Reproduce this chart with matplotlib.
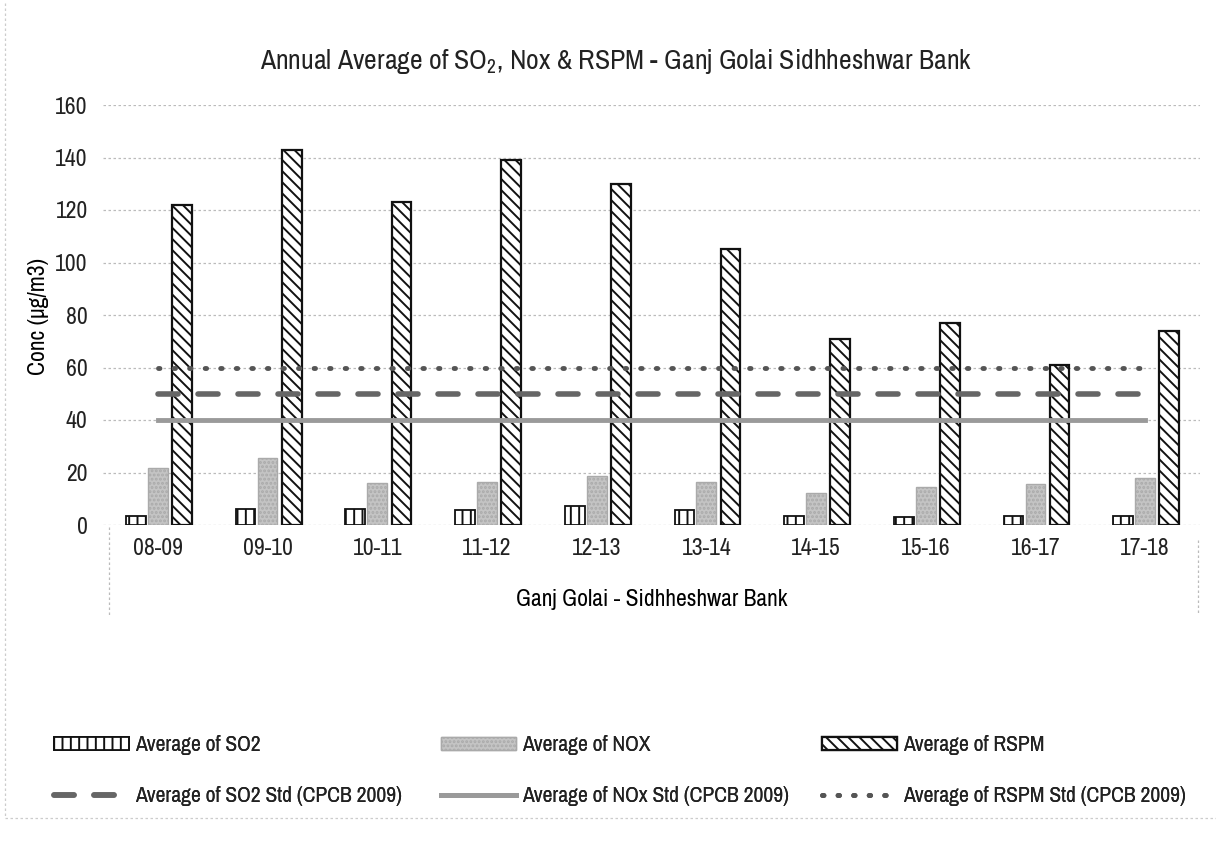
import numpy as np
import matplotlib
matplotlib.use("Agg")
import matplotlib.pyplot as plt
from matplotlib.lines import Line2D

plt.rcParams['font.family'] = ['Liberation Sans Narrow', 'Archivo Narrow', 'Liberation Sans', 'DejaVu Sans']
plt.rcParams['hatch.linewidth'] = 1.4
plt.rcParams['text.color'] = '#222222'

years = ['08-09', '09-10', '10-11', '11-12', '12-13', '13-14', '14-15', '15-16', '16-17', '17-18']
so2 = [3.5, 6.0, 6.0, 5.7, 7.2, 5.7, 3.3, 3.2, 3.4, 3.4]
nox = [21.6, 25.4, 16.1, 16.5, 18.7, 16.5, 12.1, 14.6, 15.6, 18.0]
rspm = [122, 143, 123, 139, 130, 105, 71, 77, 61, 74]
so2_std = [50, 50, 50, 50, 50, 50, 50, 50, 50, 50]
nox_std = [40, 40, 40, 40, 40, 40, 40, 40, 40, 40]
rspm_std = [60, 60, 60, 60, 60, 60, 60, 60, 60, 60]

W, H = 1216, 841
fig = plt.figure(figsize=(12.16, 8.41), dpi=100)
ax = fig.add_axes([103/W, 1-525/H, 1097/W, 420/H])

x = np.arange(len(years))
w = 0.18
b1 = ax.bar(x-0.2, so2, w, color='white', edgecolor='#111111', hatch='||', linewidth=1.3, zorder=3)
b2 = ax.bar(x, nox, w, color='#c4c4c4', edgecolor='#aaaaaa', hatch='....', linewidth=1.0, zorder=3)
b3 = ax.bar(x+0.22, rspm, w, color='white', edgecolor='#111111', hatch='\\\\\\', linewidth=1.6, zorder=3)

l1, = ax.plot(x, so2_std, color='#666666', lw=4, dashes=(3.6, 3.6), dash_capstyle='round', zorder=4)
l2, = ax.plot(x, nox_std, color='#9a9a9a', lw=3.5, zorder=4)
l3, = ax.plot(x, rspm_std, color='#555555', lw=3.5, dashes=(0.3, 2.9), dash_capstyle='round', zorder=4)

ax.set_xlim(-0.5, 9.5)
ax.set_ylim(0, 160)
ax.set_yticks(range(0, 161, 20))
ax.set_xticks(x)
ax.set_xticklabels(years)
ax.tick_params(axis='both', length=0, labelsize=17, colors='#222222')
ax.tick_params(axis='y', pad=11)
ax.tick_params(axis='x', pad=9.5)
ax.yaxis.grid(True, color='#bbbbbb', linestyle=(0, (2, 2)), linewidth=0.9)
ax.set_axisbelow(True)
for s in ax.spines.values():
    s.set_visible(False)

ax.set_ylabel('Conc (µg/m3)', fontsize=17)
ax.yaxis.set_label_coords((38-103)/1097, (525-316)/420)
ax.yaxis.label.set_va('center')
ax.set_xlabel('Ganj Golai - Sidhheshwar Bank', fontsize=17)
ax.xaxis.set_label_coords(0.5, (525-600)/420)
ax.xaxis.label.set_va('center')
fig.text(616/W, 1-62/H, 'Annual Average of SO$_\\mathregular{2}$, Nox & RSPM - Ganj Golai Sidhheshwar Bank',
         ha='center', va='center', fontsize=20)

# faint box lines around category label area
grey_dot = dict(color='#bbbbbb', lw=0.9, ls=(0, (2, 2)))
fig.add_artist(Line2D([109/W, 109/W], [1-527/H, 1-615/H], **grey_dot))
fig.add_artist(Line2D([1198/W, 1198/W], [1-540/H, 1-615/H], **grey_dot))
# page border of the scan
fig.add_artist(Line2D([5/W, 5/W], [1-3/H, 1-818/H], color='#cccccc', lw=0.9, ls=(0, (2, 2))))
fig.add_artist(Line2D([5/W, 1], [1-818/H, 1-818/H], color='#cccccc', lw=0.9, ls=(0, (2, 2))))

cols = [
    ([b1, l1], ['Average of SO2', 'Average of SO2 Std (CPCB 2009)'], 54),
    ([b2, l2], ['Average of NOX', 'Average of NOx Std (CPCB 2009)'], 441),
    ([b3, l3], ['Average of RSPM', 'Average of RSPM Std (CPCB 2009)'], 822),
]
for handles, labels, px in cols:
    leg = fig.legend(handles, labels, loc='upper left', bbox_to_anchor=(px/W, 1-735/H),
                     frameon=False, fontsize=15.5, handlelength=3.5, handleheight=0.6,
                     handletextpad=0.25, labelspacing=1.45, borderaxespad=0, borderpad=0)
    fig.add_artist(leg)

fig.savefig('out.png', dpi=100)
